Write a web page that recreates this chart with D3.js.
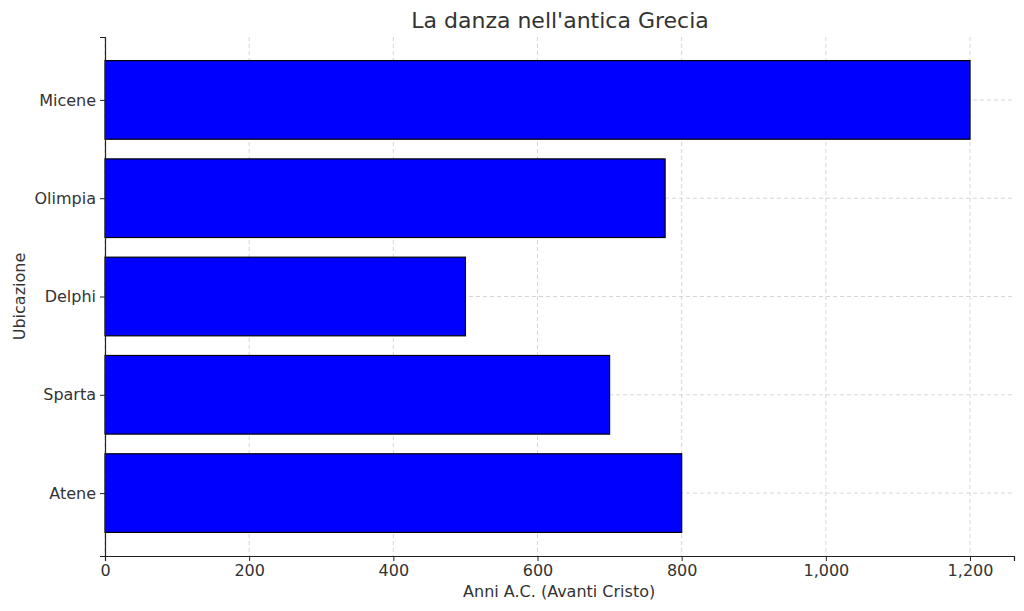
<!DOCTYPE html>
<html>
<head>
<meta charset="utf-8">
<script src="https://cdn.jsdelivr.net/npm/d3@7"></script>
<style>
  body { margin: 0; background: #fff; }
  text { font-family: "DejaVu Sans", sans-serif; fill: #333; }
</style>
</head>
<body>
<svg id="chart"></svg>
<script>
// Data
const places = ['Atene', 'Sparta', 'Delphi', 'Olimpia', 'Micene'];
const years = [800, 700, 500, 777, 1200];
const xTicks = [0, 200, 400, 600, 800, 1000, 1200];

let width = 1024;
let height = 611;
let margin = {left: 105, top: 37, right: 10, bottom: 55};

let svg = d3.select('#chart').attr('width', width).attr('height', height);

let xScale = d3.scaleLinear()
    .domain([0, 1261])
    .range([margin.left, width - margin.right]);

// matplotlib-style index scale with 5% margins
let yScale = d3.scaleLinear()
    .domain([-0.64, places.length - 1 + 0.64])
    .range([height - margin.bottom, margin.top]);

let barH = yScale(0) - yScale(0.8);

// grid
svg.append('g').selectAll('line')
    .data(xTicks)
    .enter().append('line')
    .attr('x1', d => xScale(d)).attr('x2', d => xScale(d))
    .attr('y1', margin.top).attr('y2', height - margin.bottom)
    .attr('stroke', '#ccc').attr('stroke-dasharray', '4,3').attr('stroke-width', 0.8);

svg.append('g').selectAll('line')
    .data(places)
    .enter().append('line')
    .attr('x1', margin.left).attr('x2', width - margin.right)
    .attr('y1', (d, i) => yScale(i)).attr('y2', (d, i) => yScale(i))
    .attr('stroke', '#ccc').attr('stroke-dasharray', '4,3').attr('stroke-width', 0.8);

// bars
svg.append('g').selectAll('rect')
    .data(years)
    .enter().append('rect')
    .attr('x', xScale(0))
    .attr('y', (d, i) => yScale(i) - barH / 2)
    .attr('width', d => xScale(d) - xScale(0))
    .attr('height', barH)
    .attr('fill', '#0000ff')
    .attr('stroke', 'black')
    .attr('stroke-width', 1.2);

// axes
let xAxis = d3.axisBottom(xScale).tickValues(xTicks).tickSize(5).tickPadding(4);
let gx = svg.append('g')
    .attr('transform', 'translate(0,' + (height - margin.bottom) + ')')
    .call(xAxis);

let yAxis = d3.axisLeft(yScale).tickValues(d3.range(places.length))
    .tickFormat(i => places[i]).tickSize(5).tickPadding(4);
let gy = svg.append('g')
    .attr('transform', 'translate(' + margin.left + ',0)')
    .call(yAxis);

[gx, gy].forEach(g => {
    g.select('.domain').attr('stroke', '#222').attr('stroke-width', 1.2);
    g.selectAll('.tick line').attr('stroke', '#222');
    g.selectAll('.tick text').style('font-size', '16px').style('fill', '#333')
        .style('font-family', '"DejaVu Sans", sans-serif');
});

svg.append('text')
    .attr('x', width / 2 + 48).attr('y', 28)
    .attr('text-anchor', 'middle')
    .style('font-size', '22px')
    .text("La danza nell'antica Grecia");

svg.append('text')
    .attr('x', xScale(630)).attr('y', 597)
    .attr('text-anchor', 'middle')
    .style('font-size', '16px')
    .text('Anni A.C. (Avanti Cristo)');

svg.append('text')
    .attr('transform', 'translate(25,' + yScale(2) + ') rotate(-90)')
    .attr('text-anchor', 'middle')
    .style('font-size', '16px')
    .text('Ubicazione');
</script>
</body>
</html>
